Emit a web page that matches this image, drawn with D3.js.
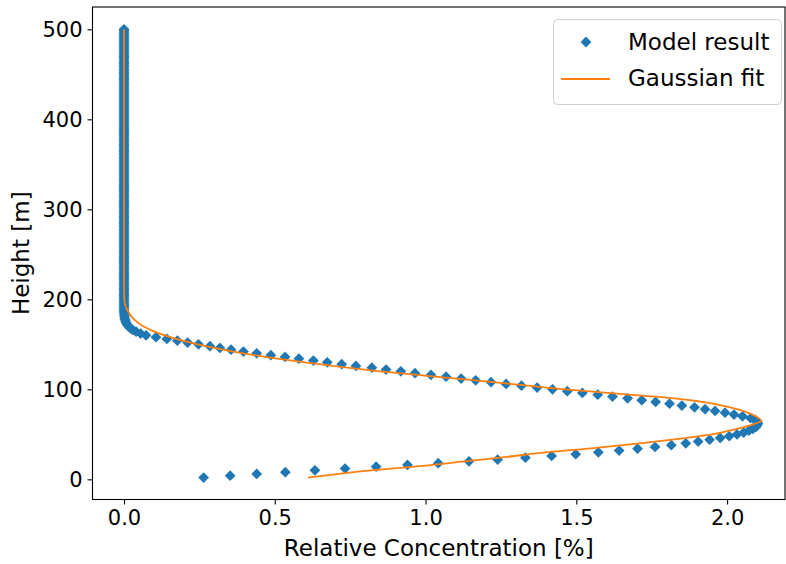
<!DOCTYPE html>
<html>
<head>
<meta charset="utf-8">
<script src="https://cdn.jsdelivr.net/npm/d3@7"></script>
<style>
  body { margin: 0; background: #fff; }
  text { font-family: "DejaVu Sans", sans-serif; fill: #000; }
</style>
</head>
<body>
<div id="profile-chart"></div>
<script>

// heights of the model grid, every 2 m
let heights = d3.range(2, 502, 2);

// model concentration for each height (2 .. 500 m)
let modelConc = [
    0.264, 0.352, 0.440, 0.535, 0.633, 0.733, 0.836, 0.940, 1.042, 1.144,
    1.239, 1.331, 1.418, 1.498, 1.573, 1.642, 1.703, 1.761, 1.815, 1.863,
    1.904, 1.942, 1.977, 2.007, 2.033, 2.055, 2.072, 2.085, 2.095, 2.100,
    2.102, 2.100, 2.093, 2.078, 2.051, 2.023, 1.993, 1.960, 1.927, 1.892,
    1.850, 1.809, 1.763, 1.717, 1.670, 1.620, 1.571, 1.520, 1.470, 1.421,
    1.370, 1.318, 1.267, 1.217, 1.166, 1.118, 1.068, 1.018, 0.965, 0.918,
    0.869, 0.822, 0.769, 0.722, 0.674, 0.628, 0.580, 0.534, 0.487, 0.440,
    0.396, 0.355, 0.318, 0.285, 0.247, 0.211, 0.177, 0.142, 0.106, 0.073,
    0.055, 0.040, 0.029, 0.021, 0.015, 0.010, 0.007, 0.005, 0.003, 0.002,
    0.001, 0.001,
    0, 0, 0, 0, 0, 0, 0, 0, 0, 0, 0, 0, 0, 0, 0, 0, 0, 0, 0, 0,
    0, 0, 0, 0, 0, 0, 0, 0, 0, 0, 0, 0, 0, 0, 0, 0, 0, 0, 0, 0,
    0, 0, 0, 0, 0, 0, 0, 0, 0, 0, 0, 0, 0, 0, 0, 0, 0, 0, 0, 0,
    0, 0, 0, 0, 0, 0, 0, 0, 0, 0, 0, 0, 0, 0, 0, 0, 0, 0, 0, 0,
    0, 0, 0, 0, 0, 0, 0, 0, 0, 0, 0, 0, 0, 0, 0, 0, 0, 0, 0, 0,
    0, 0, 0, 0, 0, 0, 0, 0, 0, 0, 0, 0, 0, 0, 0, 0, 0, 0, 0, 0,
    0, 0, 0, 0, 0, 0, 0, 0, 0, 0, 0, 0, 0, 0, 0, 0, 0, 0, 0, 0,
    0, 0, 0, 0, 0, 0, 0, 0, 0, 0, 0, 0, 0, 0, 0, 0, 0, 0
];

// gaussian fit
let fitHeights = [2, 10, 15, 20, 25, 30, 35, 40, 45, 50, 55, 60, 65, 70, 75,
                  80, 85, 90, 95, 100, 105, 110, 115, 120, 125, 130, 135, 140,
                  145, 150, 155, 160, 165, 170, 175, 180, 185, 190, 195, 200,
                  220, 250, 300, 400, 500];
let fitConc = [0.61, 0.82, 0.99, 1.13, 1.27, 1.40, 1.565, 1.71, 1.84, 1.95,
               2.02, 2.075, 2.113, 2.095, 2.062, 2.01, 1.94, 1.825, 1.645, 1.465,
               1.315, 1.165, 1.005, 0.85, 0.72, 0.60, 0.49, 0.395, 0.315, 0.245,
               0.185, 0.135, 0.095, 0.064, 0.043, 0.027, 0.016, 0.008, 0.003, 0.001,
               0, 0, 0, 0, 0];

let xTicks = [0.0, 0.5, 1.0, 1.5, 2.0];
let yTicks = [0, 100, 200, 300, 400, 500];
let legendLabels = ["Model result", "Gaussian fit"];

class ProfileChart {

    constructor () {
        this.margin = {top: 7, right: 1, bottom: 64.5, left: 92.5};
        this.width = 786;
        this.height = 564;
        this.plotW = this.width - this.margin.left - this.margin.right;
        this.plotH = this.height - this.margin.top - this.margin.bottom;
        this.svg = d3.select("#profile-chart").append("svg")
            .attr("width", this.width)
            .attr("height", this.height);
        this.g = this.svg.append("g")
            .attr("transform", "translate(" + this.margin.left + "," + this.margin.top + ")");
    }

    update () {
        let blue = "#1f77b4";
        let orange = "#ff7f0e";

        let x = d3.scaleLinear().domain([-0.1045, 2.192]).range([0, this.plotW]);
        let y = d3.scaleLinear().domain([-22.4, 524.8]).range([this.plotH, 0]);

        let pts = heights.map(function(h, i){ return {h: h, c: modelConc[i]}; });
        let diamond = d3.symbol().type(d3.symbolSquare).size(58);

        this.g.append("g").selectAll("path")
            .data(pts)
            .enter().append("path")
            .attr("d", diamond)
            .attr("transform", function(d){
                return "translate(" + x(d.c) + "," + y(d.h) + ") rotate(45)";
            })
            .attr("fill", blue);

        let fitLine = d3.line()
            .x(function(d){ return x(d[1]); })
            .y(function(d){ return y(d[0]); })
            .curve(d3.curveMonotoneY);

        this.g.append("path")
            .datum(fitHeights.map(function(h, i){ return [h, fitConc[i]]; }))
            .attr("d", fitLine)
            .attr("fill", "none")
            .attr("stroke", orange)
            .attr("stroke-width", 1.8);

        // axes
        let xAxis = this.g.append("g")
            .attr("transform", "translate(0," + this.plotH + ")")
            .call(d3.axisBottom(x).tickValues(xTicks).tickFormat(d3.format(".1f"))
                  .tickSize(5).tickSizeOuter(0).tickPadding(6));
        let yAxis = this.g.append("g")
            .call(d3.axisLeft(y).tickValues(yTicks).tickFormat(d3.format("d"))
                  .tickSize(5).tickSizeOuter(0).tickPadding(5));
        [xAxis, yAxis].forEach(function(a){
            a.select(".domain").remove();
            a.selectAll("line").attr("stroke", "#000").attr("stroke-width", 1.1);
            a.selectAll("text").style("font-size", "21px").attr("fill", "#000");
        });

        // frame
        this.g.append("rect")
            .attr("width", this.plotW)
            .attr("height", this.plotH)
            .attr("fill", "none")
            .attr("stroke", "#000")
            .attr("stroke-width", 1.1);

        this.svg.append("text")
            .attr("x", this.margin.left + this.plotW / 2)
            .attr("y", 556)
            .attr("text-anchor", "middle")
            .style("font-size", "23px")
            .text("Relative Concentration [%]");

        this.svg.append("text")
            .attr("transform", "translate(29," + (this.margin.top + this.plotH / 2) + ") rotate(-90)")
            .attr("text-anchor", "middle")
            .style("font-size", "23px")
            .text("Height [m]");

        // legend
        let lg = this.svg.append("g");
        lg.append("rect")
            .attr("x", 553.5).attr("y", 19.5)
            .attr("width", 228).attr("height", 85)
            .attr("rx", 4)
            .attr("fill", "#fff").attr("fill-opacity", 0.8)
            .attr("stroke", "#d0d0d0");
        lg.append("path")
            .attr("d", diamond)
            .attr("transform", "translate(586,42) rotate(45)")
            .attr("fill", blue);
        lg.append("line")
            .attr("x1", 561).attr("x2", 610)
            .attr("y1", 79).attr("y2", 79)
            .attr("stroke", orange).attr("stroke-width", 1.8);
        lg.selectAll("text.lab")
            .data(legendLabels)
            .enter().append("text")
            .attr("class", "lab")
            .attr("x", 628)
            .attr("y", function(d, i){ return 50 + i * 36; })
            .style("font-size", "23px")
            .text(function(d){ return d; });
    }
}

let chart = new ProfileChart();
chart.update();
</script>
</body>
</html>
